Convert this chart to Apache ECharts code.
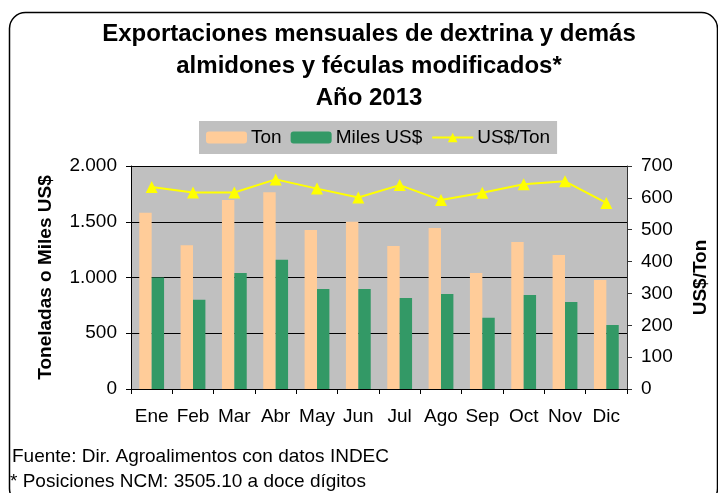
<!DOCTYPE html>
<html lang="es">
<head>
    <meta charset="UTF-8">
    <title>Exportaciones mensuales de dextrina</title>
    <script type="text/javascript" src="https://cdn.jsdelivr.net/npm/echarts@6/dist/echarts.min.js"></script>
    <style>
        html, body { margin: 0; padding: 0; background: #fff; }
    </style>
</head>
<body>
    <div id="main" style="width: 718px;height:493px;"></div>
    <script type="text/javascript">
        // meses
        var meses = ['Ene', 'Feb', 'Mar', 'Abr', 'May', 'Jun', 'Jul', 'Ago', 'Sep', 'Oct', 'Nov', 'Dic'];

        // toneladas exportadas
        var toneladas = [1580, 1290, 1695, 1765, 1425, 1500, 1282, 1443, 1040, 1318, 1201, 978];

        // miles de US$
        var milesUSD = [1000, 800, 1040, 1160, 897, 897, 817, 852, 638, 843, 781, 575];

        // precio promedio US$/Ton
        var usdPorTon = [634, 617, 617, 658, 629, 601, 640, 593, 616, 643, 652, 584];

        // etiquetas del eje izquierdo
        var ticksIzq = {0: '0', 500: '500', 1000: '1.000', 1500: '1.500', 2000: '2.000'};

        var fuente = 'Liberation Sans, Arial, sans-serif';

        var myChart = echarts.init(document.getElementById('main'));

        var option = {
            backgroundColor: '#fff',
            textStyle: { fontFamily: fuente },
            title: {
                text: 'Exportaciones mensuales de dextrina y demás\nalmidones y féculas modificados*\nAño 2013',
                left: 364,
                top: 13,
                textAlign: 'center',
                textStyle: {
                    fontFamily: fuente,
                    fontSize: 24,
                    fontWeight: 'bold',
                    color: '#000',
                    lineHeight: 32
                }
            },
            legend: {
                data: ['Ton', 'Miles US$', 'US$/Ton'],
                left: 199,
                top: 121,
                backgroundColor: '#C0C0C0',
                padding: [7, 7, 7, 7],
                itemWidth: 41,
                itemHeight: 12,
                itemGap: 9,
                textStyle: { fontFamily: fuente, fontSize: 19, color: '#000', padding: [0, 0, 0, -1] }
            },
            grid: {
                left: 131,
                right: 85,
                top: 166,
                bottom: 104,
                show: true,
                backgroundColor: '#C0C0C0',
                borderWidth: 0
            },
            xAxis: {
                type: 'category',
                data: meses,
                axisLine: { lineStyle: { color: '#000', width: 1 } },
                axisTick: { show: true, length: 5, lineStyle: { color: '#000' } },
                axisLabel: { color: '#000', fontSize: 19, margin: 18, interval: 0, fontFamily: fuente }
            },
            yAxis: [{
                type: 'value',
                min: 0,
                max: 2000,
                interval: 500,
                name: 'Toneladas o Miles US$',
                nameLocation: 'middle',
                nameGap: 76,
                nameTextStyle: { fontFamily: fuente, fontSize: 19, fontWeight: 'bold', color: '#000' },
                axisLine: { show: true, lineStyle: { color: '#000' } },
                axisTick: { show: true, length: 5, lineStyle: { color: '#000' } },
                axisLabel: {
                    color: '#000', fontSize: 19, margin: 14, fontFamily: fuente,
                    formatter: function (v) { return ticksIzq[v]; }
                },
                splitLine: { show: true, lineStyle: { color: '#000', width: 1 } }
            }, {
                type: 'value',
                min: 0,
                max: 700,
                interval: 100,
                name: 'US$/Ton',
                nameLocation: 'middle',
                nameGap: 64,
                nameRotate: 90,
                nameTextStyle: { fontFamily: fuente, fontSize: 19, fontWeight: 'bold', color: '#000' },
                axisLine: { show: true, lineStyle: { color: '#333' } },
                axisTick: { show: true, length: 5, lineStyle: { color: '#333' } },
                axisLabel: { color: '#000', fontSize: 19, margin: 14, fontFamily: fuente },
                splitLine: { show: false }
            }],
            series: [{
                name: 'Ton',
                type: 'bar',
                data: toneladas,
                barGap: '0%',
                barCategoryGap: '40%',
                itemStyle: { color: '#FFCC99' }
            }, {
                name: 'Miles US$',
                type: 'bar',
                data: milesUSD,
                itemStyle: { color: '#339966' }
            }, {
                name: 'US$/Ton',
                type: 'line',
                yAxisIndex: 1,
                data: usdPorTon,
                symbol: 'triangle',
                symbolSize: 12,
                lineStyle: { color: '#FFFF00', width: 2 },
                itemStyle: { color: '#FFFF00' }
            }],
            graphic: [{
                type: 'rect',
                left: 7,
                top: 10,
                shape: { width: 708, height: 492, r: 16 },
                style: { fill: null, stroke: '#000', lineWidth: 1.5 },
                silent: true
            }, {
                type: 'text',
                left: 12,
                top: 447,
                style: { text: 'Fuente: Dir. Agroalimentos con datos INDEC', font: '19px ' + fuente, fill: '#000' }
            }, {
                type: 'text',
                left: 10,
                top: 472,
                style: { text: '* Posiciones NCM: 3505.10 a doce dígitos', font: '19px ' + fuente, fill: '#000' }
            }]
        };

        myChart.setOption(option);
    </script>
</body>
</html>
